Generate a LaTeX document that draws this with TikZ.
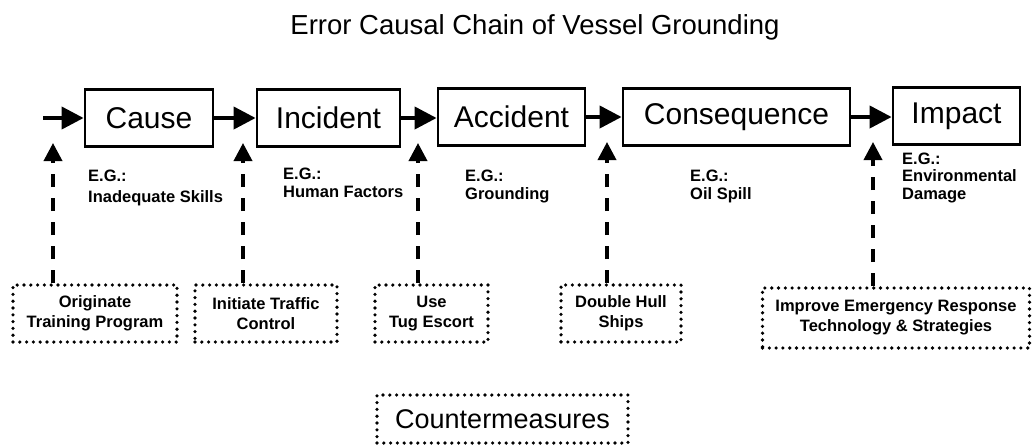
\documentclass[tikz,border=0pt]{standalone}
\usepackage{fontspec}
\setmainfont{Liberation Sans}
\usetikzlibrary{arrows.meta}
\tikzset{
  chainbox/.style={draw, line width=2.8pt, inner sep=0pt, minimum height=57pt, font=\fontsize{30}{36}\selectfont},
  cmbox/.style={draw, line width=3.6pt, dash pattern=on 0pt off 6.8pt, line cap=round, inner sep=0pt,
    align=center, font=\bfseries\fontsize{16.5}{20}\selectfont},
  eglabel/.style={anchor=base west, inner sep=0pt, align=left, font=\bfseries\fontsize{16.5}{17.5}\selectfont},
  chainarrow/.style={line width=4pt, -{Triangle[length=22pt,width=22pt]}},
  uparrow/.style={line width=3.6pt, dash pattern=on 13pt off 11pt, -{Triangle[length=18pt,width=18pt]}},
}
\begin{document}
\begin{tikzpicture}[x=1pt,y=-1pt]
\useasboundingbox (0,0) rectangle (1033,445);
\node[font=\fontsize{27.5}{33}\selectfont, inner sep=0pt] (title) at (535,27) {Error Causal Chain of Vessel Grounding};

\node[chainbox, minimum width=128pt] (cause) at (149,118) {Cause};
\node[chainbox, minimum width=143pt] (incident) at (328.5,118) {Incident};
\node[chainbox, minimum width=147pt] (accident) at (511.5,117) {Accident};
\node[chainbox, minimum width=227pt] (consequence) at (736.5,117) {Consequence};
\node[chainbox, minimum width=127pt] (impact) at (956.5,116) {Impact};

\coordinate (start) at (43,118);
\draw[chainarrow] (start) -- (cause.west);
\draw[chainarrow] (cause.east) -- (incident.west |- cause.east);
\draw[chainarrow] (incident.east) -- (accident.west |- incident.east);
\draw[chainarrow] (accident.east) -- (consequence.west |- accident.east);
\draw[chainarrow] (consequence.east) -- (impact.west |- consequence.east);

\node[eglabel] (eg1) at (88,202) {E.G.:\\[3.5pt]Inadequate Skills};
\node[eglabel] (eg2) at (283,197) {E.G.:\\Human Factors};
\node[eglabel] (eg3) at (465,199) {E.G.:\\Grounding};
\node[eglabel] (eg4) at (690,199) {E.G.:\\Oil Spill};
\node[eglabel] (eg5) at (902,199) {E.G.:\\Environmental\\Damage};

\node[cmbox, minimum width=164pt, minimum height=57pt] (cm1) at (95,313.5) {Originate\\Training Program};
\node[cmbox, minimum width=142pt, minimum height=57pt] (cm2) at (266,313.5) {Initiate Traffic\\Control};
\node[cmbox, minimum width=113pt, minimum height=57pt] (cm3) at (431.5,313.5) {Use\\Tug Escort};
\node[cmbox, minimum width=120pt, minimum height=57pt] (cm4) at (621,313.5) {Double Hull\\Ships};
\node[cmbox, minimum width=267pt, minimum height=60pt] (cm5) at (896,318) {Improve Emergency Response\\Technology \& Strategies};

\node[cmbox, font=\fontsize{27}{32}\selectfont, minimum width=251pt, minimum height=48pt] (cm) at (502.5,419) {Countermeasures};

\coordinate (t1) at (53,143);
\coordinate (t2) at (243,143);
\coordinate (t3) at (418,143);
\coordinate (t4) at (607,142);
\coordinate (t5) at (873,142);
\draw[uparrow] (t1 |- cm1.north) -- (t1);
\draw[uparrow] (t2 |- cm2.north) -- (t2);
\draw[uparrow] (t3 |- cm3.north) -- (t3);
\draw[uparrow] (t4 |- cm4.north) -- (t4);
\draw[uparrow] (t5 |- cm5.north) -- (t5);
\end{tikzpicture}
\end{document}
